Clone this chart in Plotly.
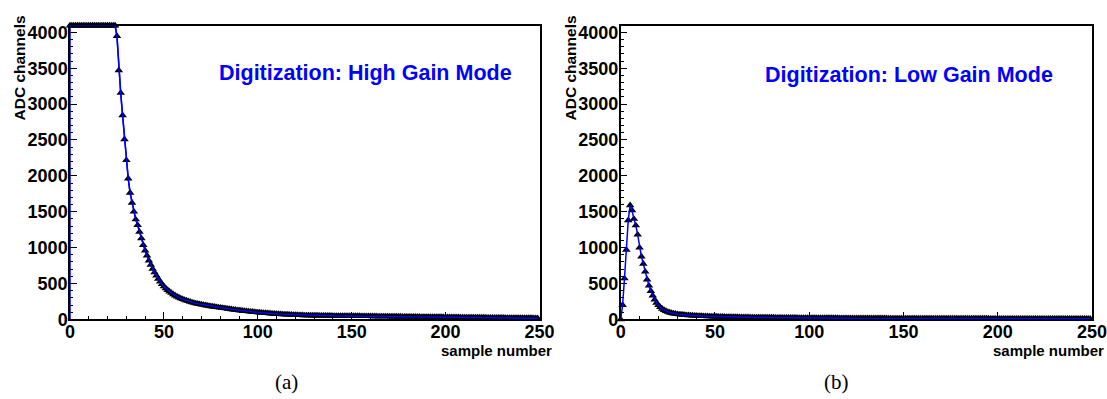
import plotly.graph_objects as go

# ---------------- data ----------------
samples = list(range(250))

high_gain = (
    [4095] * 25
    + [3947, 3470, 3155, 2844, 2510, 2218, 1963, 1764, 1625, 1500, 1393, 1314, 1221, 1129, 1036]
    + [960, 890, 820, 760, 705, 655, 610, 565, 526, 490]
    + [460, 432, 408, 387, 368, 350, 333, 318, 304, 292]
    + [282, 272, 262, 253, 245, 237, 230, 223, 217, 212]
    + [207, 202, 197, 192, 187, 183, 179, 175, 171, 167]
    + [164, 160, 156, 152, 148, 144, 140, 136, 133, 129]
    + [126, 123, 120, 117, 114, 111, 108, 105, 102, 100]
    + [97, 95, 92, 90, 88, 86, 84, 82, 80, 78]
    + [76, 74, 73, 71, 70, 68, 67, 65, 64, 62]
    + [61, 60, 59, 58, 57, 56, 56, 55, 55, 54]
    + [54, 53, 53, 52, 52, 51, 51, 50, 50, 50]
    + [49, 49, 49, 48, 48, 48, 48, 47, 47, 47]
    + [47, 47, 46, 46, 46, 45, 45, 45, 44, 44]
    + [44, 43, 43, 43, 42, 42, 42, 41, 41, 41]
    + [41, 40, 40, 40, 39, 39, 39, 38, 38, 38]
    + [38, 37, 37, 37, 36, 36, 36, 35, 35, 35]
    + [34, 34, 34, 33, 33, 33, 32, 32, 32, 31]
    + [31, 31, 30, 30, 30, 29, 29, 29, 28, 28]
    + [28, 28, 27, 27, 27, 26, 26, 26, 25, 25]
    + [25, 25, 24, 24, 24, 23, 23, 23, 22, 22]
    + [22, 22, 21, 21, 21, 20, 20, 20, 20, 19]
    + [19, 19, 19, 18, 18, 18, 18, 17, 17, 17]
)

low_gain = (
    [0, 200, 570, 970, 1380, 1590, 1520, 1400, 1310, 1180]
    + [1000, 875, 775, 665, 555, 470, 395, 330, 275, 232]
    + [198, 170, 148, 130, 116, 104, 95, 88, 82, 77]
    + [73, 70, 67, 64, 61, 59, 57, 55, 53, 51]
    + [50, 48, 47, 46, 45, 44, 43, 42, 41, 40]
    + [40, 39, 38, 37, 37, 36, 35, 35, 34, 33]
    + [33, 32, 32, 31, 31, 30, 30, 29, 29, 28]
    + [28, 28, 27, 27, 27, 26, 26, 26, 25, 25]
    + [25, 25, 24, 24, 24, 24, 23, 23, 23, 23]
    + [22, 22, 22, 22, 21, 21, 21, 21, 21, 20]
    + [20, 20, 20, 20, 19, 19, 19, 19, 19, 19]
    + [18, 18, 18, 18, 18, 18, 17, 17, 17, 17]
    + [17, 17, 17, 16, 16, 16, 16, 16, 16, 16]
    + [16, 15, 15, 15, 15, 15, 15, 15, 15, 15]
    + [15, 15, 14, 14, 14, 14, 14, 14, 14, 14]
    + [14, 14, 14, 13, 13, 13, 13, 13, 13, 13]
    + [13, 13, 13, 13, 13, 12, 12, 12, 12, 12]
    + [12, 12, 12, 12, 12, 12, 12, 12, 11, 11]
    + [11, 11, 11, 11, 11, 11, 11, 11, 11, 11]
    + [11, 11, 11, 11, 11, 11, 10, 10, 10, 10]
    + [10, 10, 10, 10, 10, 10, 10, 10, 10, 10]
    + [10, 10, 10, 10, 10, 10, 10, 10, 10, 10]
    + [10, 10, 10, 10, 10, 10, 10, 10, 10, 10]
    + [10, 10, 10, 10, 10, 10, 10, 10, 10, 10]
    + [10, 10, 10, 10, 10, 10, 10, 10, 10, 10]
)

panel_titles = ["Digitization: High Gain Mode", "Digitization: Low Gain Mode"]
captions = ["(a)", "(b)"]
x_title = "sample number"
y_title = "ADC channels"
x_range = [0, 250]
y_range = [0, 4095]

# ---------------- layout geometry ----------------
W, H = 1107, 399
def px(x):
    return x / W
def py(y):
    return 1 - y / H

dom_y = [py(319.4), py(25.5)]
dom_x1 = [px(70), px(539.5)]
dom_x2 = [px(620.7), px(1092)]

BLUE = "rgb(0,0,255)"
FONT = "Liberation Sans, Arial, Helvetica, sans-serif"

fig = go.Figure()

# high gain panel
fig.add_trace(go.Scatter(x=[0] + samples, y=[0] + high_gain, mode="lines",
                         line=dict(color=BLUE, width=1.5), xaxis="x", yaxis="y",
                         cliponaxis=False, showlegend=False, hoverinfo="skip"))
fig.add_trace(go.Scatter(x=samples, y=high_gain, mode="markers",
                         marker=dict(symbol="triangle-up", color="black", size=7.5),
                         xaxis="x", yaxis="y", cliponaxis=False, showlegend=False))
fig.add_trace(go.Scatter(x=samples, y=high_gain, mode="lines",
                         line=dict(color=BLUE, width=1.5), xaxis="x", yaxis="y",
                         cliponaxis=False, showlegend=False, hoverinfo="skip"))
# low gain panel
fig.add_trace(go.Scatter(x=samples, y=low_gain, mode="markers",
                         marker=dict(symbol="triangle-up", color="black", size=7.5),
                         xaxis="x2", yaxis="y2", cliponaxis=False, showlegend=False))
fig.add_trace(go.Scatter(x=samples, y=low_gain, mode="lines",
                         line=dict(color=BLUE, width=1.5), xaxis="x2", yaxis="y2",
                         cliponaxis=False, showlegend=False, hoverinfo="skip"))

tickfont = dict(family=FONT, size=18, color="black", weight="bold")

def xaxis(domain, anchor):
    return dict(domain=domain, anchor=anchor, range=x_range, tickmode="linear", tick0=0, dtick=50,
                ticks="inside", ticklen=8, tickwidth=1, tickcolor="black",
                minor=dict(ticks="inside", ticklen=4, dtick=10, tickwidth=1, tickcolor="black"),
                showline=True, linecolor="black", linewidth=1.5, mirror=True,
                showgrid=False, zeroline=False, tickfont=tickfont, ticklabelstandoff=-5,
                ticklabeloverflow="allow", automargin=False, layer="below traces")

def yaxis(domain, anchor):
    return dict(domain=domain, anchor=anchor, range=y_range, tickmode="linear", tick0=0, dtick=500,
                ticks="inside", ticklen=7, tickwidth=1, tickcolor="black",
                minor=dict(ticks="inside", ticklen=3.5, dtick=100, tickwidth=1, tickcolor="black"),
                showline=True, linecolor="black", linewidth=1.5, mirror=True,
                showgrid=False, zeroline=False, tickfont=tickfont, ticklabelstandoff=-3,
                ticklabeloverflow="allow", automargin=False, layer="below traces")

annotations = []
for i, (x0, xend, ylab_x) in enumerate([(70, 539.5, 19), (620.7, 1092, 570)]):
    annotations.append(dict(text=y_title, x=px(ylab_x), y=py(14), xref="paper", yref="paper",
                            xanchor="center", yanchor="top", textangle=-90, showarrow=False,
                            font=dict(family=FONT, size=15.5, color="black", weight="bold")))
    annotations.append(dict(text=x_title, x=px(xend + 14), y=py(350), xref="paper", yref="paper",
                            xanchor="right", yanchor="middle", showarrow=False,
                            font=dict(family=FONT, size=15, color="black", weight="bold")))

annotations.append(dict(text=panel_titles[0], x=px(365), y=py(73), xref="paper", yref="paper",
                        xanchor="center", yanchor="middle", showarrow=False,
                        font=dict(family=FONT, size=21.5, color=BLUE, weight="bold")))
annotations.append(dict(text=panel_titles[1], x=px(909), y=py(75), xref="paper", yref="paper",
                        xanchor="center", yanchor="middle", showarrow=False,
                        font=dict(family=FONT, size=21.5, color=BLUE, weight="bold")))
annotations.append(dict(text=captions[0], x=px(286), y=py(382), xref="paper", yref="paper",
                        xanchor="center", yanchor="middle", showarrow=False,
                        font=dict(family="Liberation Serif, Times New Roman, serif", size=21, color="black")))
annotations.append(dict(text=captions[1], x=px(836), y=py(382), xref="paper", yref="paper",
                        xanchor="center", yanchor="middle", showarrow=False,
                        font=dict(family="Liberation Serif, Times New Roman, serif", size=21, color="black")))

fig.update_layout(
    template="none",
    width=W, height=H, margin=dict(l=0, r=0, t=0, b=0, autoexpand=False),
    paper_bgcolor="white", plot_bgcolor="white",
    xaxis=xaxis(dom_x1, "y"), yaxis=yaxis(dom_y, "x"),
    xaxis2=xaxis(dom_x2, "y2"), yaxis2=yaxis(dom_y, "x2"),
    annotations=annotations, showlegend=False,
)

fig.write_html("out.html")
